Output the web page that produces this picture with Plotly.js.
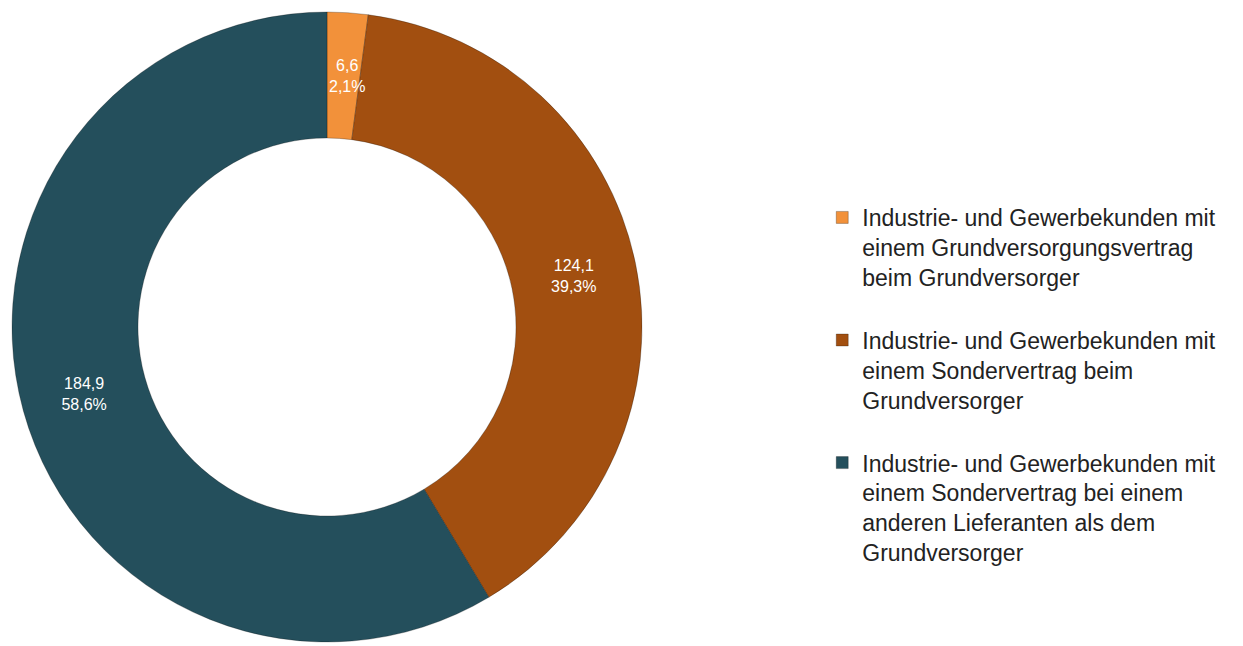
<!DOCTYPE html>
<html><head><meta charset="utf-8">
<script src="https://cdn.plot.ly/plotly-3.0.1.min.js"></script>
<style>html,body{margin:0;padding:0;background:#fff;}#chart{width:1243px;height:646px;}</style>
</head><body><div id="chart"></div>
<script>
const categories = [
  "Industrie- und Gewerbekunden mit<br>einem Grundversorgungsvertrag<br>beim Grundversorger<br> ",
  "Industrie- und Gewerbekunden mit<br>einem Sondervertrag beim<br>Grundversorger<br> ",
  "Industrie- und Gewerbekunden mit<br>einem Sondervertrag bei einem<br>anderen Lieferanten als dem<br>Grundversorger"
];
const values = [6.6, 124.1, 184.9];
const colors = ["#F2913A", "#A24F10", "#244F5C"];

const W = 1243, H = 646, MT = 12, MB = 4;
const HOLE = 0.6;
const DOM_X = [12/W, 642/W];
const FONT = "Arial, 'Liberation Sans', sans-serif";

const total = values.reduce((a, b) => a + b, 0);
const fmt = v => v.toFixed(1).replace(".", ",");
// small slices get their label via an annotation placed at the ring middle
const smallIdx = values.map((v, i) => (v / total < 0.05 ? i : -1)).filter(i => i >= 0);

const trace = {
  type: "pie",
  labels: categories,
  values: values,
  hole: HOLE,
  sort: false,
  direction: "clockwise",
  rotation: 0,
  marker: {colors: colors, line: {color: "rgba(0,0,0,0.25)", width: 1}},
  texttemplate: "%{value:.1f}<br>%{percent:.1%}",
  textposition: values.map((v, i) => (smallIdx.includes(i) ? "none" : "inside")),
  insidetextorientation: "horizontal",
  textfont: {family: FONT, size: 16, color: "#ffffff"},
  hoverinfo: "none",
  domain: {x: DOM_X, y: [0, 1]}
};

const plotH = H - MT - MB;
const cxPx = (DOM_X[0] + DOM_X[1]) / 2 * W;
const cyPx = MT + plotH / 2;
const R = plotH / 2;
const rMid = R * (1 + HOLE) / 2;
let cum = 0;
const annotations = [];
values.forEach((v, i) => {
  const a = (cum + v / 2) / total * 2 * Math.PI;
  cum += v;
  if (!smallIdx.includes(i)) return;
  const xPx = cxPx + rMid * Math.sin(a) + 3;
  const yPx = cyPx - rMid * Math.cos(a);
  annotations.push({
    xref: "paper", yref: "paper",
    x: xPx / W, y: (H - MB - yPx) / plotH,
    xanchor: "center", yanchor: "middle",
    text: fmt(v) + "<br>" + fmt(v / total * 100) + "%",
    showarrow: false,
    font: {family: FONT, size: 16, color: "#ffffff"}
  });
});

const layout = {
  width: W, height: H,
  margin: {l: 0, r: 0, t: MT, b: MB},
  paper_bgcolor: "#ffffff",
  separators: ",.",
  uniformtext: {minsize: 16, mode: "show"},
  showlegend: true,
  annotations: annotations,
  legend: {
    x: 0.6615, xanchor: "left", y: 0.708, yanchor: "top",
    valign: "top",
    font: {family: FONT, size: 23, color: "#222222"},
    itemclick: false
  }
};

Plotly.newPlot("chart", [trace], layout, {displayModeBar: false, staticPlot: true});
</script></body></html>
